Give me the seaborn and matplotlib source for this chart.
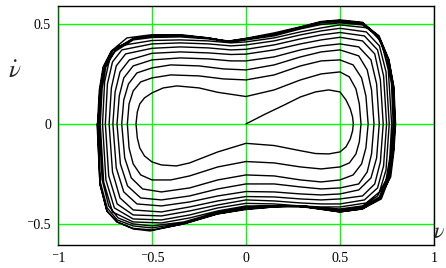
import matplotlib
matplotlib.use("Agg")
import matplotlib.pyplot as plt
import seaborn as sns
import pandas as pd

# phase trajectory nu (displacement) vs nu_dot (velocity)
# one half-turn per line: top passes go left->right, bottom passes right->left
nu = [
    0, 0.1, 0.2, 0.29, 0.37, 0.44, 0.5, 0.532, 0.555, 0.567, 0.571,
    0.567, 0.555, 0.532, 0.5, 0.44, 0.37, 0.29, 0.15, 0, -0.15, -0.3, -0.37, -0.45, -0.5, -0.54, -0.565, -0.578, -0.585,
    -0.578, -0.565, -0.54, -0.5, -0.44, -0.367, -0.25, -0.15, 0, 0.15, 0.29, 0.4, 0.5, 0.55, 0.585, 0.603, 0.612,
    0.603, 0.585, 0.55, 0.5, 0.4, 0.29, 0.15, 0, -0.15, -0.3, -0.4, -0.5, -0.56, -0.6, -0.622, -0.631,
    -0.622, -0.6, -0.56, -0.5, -0.4, -0.25, -0.12, 0, 0.15, 0.29, 0.4, 0.5, 0.57, 0.615, 0.638, 0.65,
    0.638, 0.615, 0.57, 0.5, 0.4, 0.29, 0.15, 0, -0.15, -0.3, -0.45, -0.55, -0.61, -0.645, -0.661,
    -0.65, -0.625, -0.58, -0.5, -0.4, -0.25, -0.12, 0, 0.15, 0.29, 0.4, 0.5, 0.6, 0.645, 0.668, 0.681,
    0.668, 0.645, 0.6, 0.5, 0.4, 0.29, 0.15, 0, -0.15, -0.3, -0.45, -0.56, -0.63, -0.668, -0.686,
    -0.674, -0.65, -0.6, -0.5, -0.35, -0.2, -0.08, 0, 0.15, 0.29, 0.4, 0.5, 0.6, 0.665, 0.695, 0.709,
    0.695, 0.665, 0.6, 0.5, 0.4, 0.29, 0.15, 0, -0.15, -0.3, -0.45, -0.58, -0.65, -0.69, -0.708,
    -0.696, -0.67, -0.62, -0.5, -0.35, -0.2, -0.08, 0, 0.15, 0.29, 0.4, 0.5, 0.62, 0.685, 0.715, 0.73,
    0.715, 0.685, 0.62, 0.5, 0.4, 0.29, 0.15, 0, -0.15, -0.3, -0.45, -0.6, -0.67, -0.71, -0.728,
    -0.716, -0.69, -0.64, -0.5, -0.35, -0.2, -0.08, 0, 0.15, 0.29, 0.4, 0.5, 0.63, 0.7, 0.732, 0.748,
    0.732, 0.7, 0.63, 0.5, 0.4, 0.29, 0.15, 0, -0.15, -0.3, -0.45, -0.6, -0.685, -0.73, -0.748,
    -0.737, -0.71, -0.66, -0.5, -0.35, -0.2, -0.08, 0, 0.15, 0.29, 0.4, 0.5, 0.64, 0.71, 0.745, 0.762,
    0.745, 0.71, 0.64, 0.5, 0.4, 0.29, 0.15, 0, -0.15, -0.3, -0.45, -0.6, -0.7, -0.745, -0.763,
    -0.752, -0.725, -0.675, -0.5, -0.35, -0.2, -0.08, 0, 0.15, 0.29, 0.4, 0.5, 0.65, 0.72, 0.757, 0.775,
    0.765, 0.745, 0.7, 0.62, 0.5, 0.29, 0.15, 0, -0.15, -0.3, -0.45, -0.6, -0.71, -0.757, -0.775,
    -0.765, -0.745, -0.7, -0.6, -0.5, -0.35, -0.2, -0.08, 0, 0.15, 0.29, 0.4, 0.5, 0.62, 0.7, 0.75, 0.774, 0.783,
    0.774, 0.755, 0.71, 0.62, 0.5, 0.3, 0.15, 0, -0.15, -0.33, -0.5, -0.6, -0.68, -0.73, -0.765, -0.782,
    -0.772, -0.752, -0.708, -0.6, -0.5, -0.35, -0.2, -0.08, 0, 0.15, 0.29, 0.4, 0.5, 0.62, 0.705, 0.755, 0.78, 0.789,
    0.779, 0.76, 0.715, 0.62, 0.5, 0.3, 0.15, 0, -0.15, -0.33, -0.5, -0.6, -0.685, -0.738, -0.775, -0.787,
    -0.777, -0.757, -0.713, -0.6, -0.5, -0.35, -0.2, -0.1, 0, 0.15, 0.29, 0.4, 0.5, 0.62, 0.708, 0.76, 0.785, 0.793,
    0.785, 0.765, 0.72, 0.62, 0.5, 0.3, 0.15, 0, -0.15, -0.33, -0.5, -0.6, -0.686, -0.74, -0.777, -0.79,
    -0.78, -0.76, -0.716, -0.633, -0.51, -0.335, -0.2, -0.1, 0, 0.15, 0.287, 0.4, 0.5, 0.62, 0.707, 0.76, 0.787, 0.796,
    0.787, 0.77, 0.707, 0.62, 0.5, 0.266, 0.15, 0, -0.155, -0.335, -0.51, -0.6, -0.686, -0.74, -0.777, -0.792,
]
nu_dot = [
    0, 0.048, 0.093, 0.135, 0.16, 0.17, 0.16, 0.12, 0.075, 0.035, 0,
    -0.035, -0.075, -0.115, -0.14, -0.15, -0.148, -0.134, -0.108, -0.097, -0.14, -0.195, -0.21, -0.205, -0.19, -0.16, -0.12, -0.07, 0,
    0.06, 0.10, 0.13, 0.155, 0.18, 0.19, 0.18, 0.158, 0.137, 0.17, 0.22, 0.25, 0.26, 0.235, 0.175, 0.1, 0,
    -0.09, -0.15, -0.195, -0.215, -0.225, -0.215, -0.195, -0.188, -0.215, -0.26, -0.28, -0.28, -0.255, -0.2, -0.12, 0,
    0.1, 0.165, 0.21, 0.23, 0.245, 0.24, 0.225, 0.22, 0.245, 0.29, 0.315, 0.32, 0.295, 0.23, 0.14, 0,
    -0.12, -0.2, -0.255, -0.28, -0.29, -0.28, -0.26, -0.255, -0.28, -0.32, -0.34, -0.325, -0.27, -0.17, 0,
    0.12, 0.2, 0.255, 0.28, 0.295, 0.29, 0.275, 0.27, 0.295, 0.335, 0.36, 0.37, 0.34, 0.27, 0.17, 0,
    -0.15, -0.24, -0.3, -0.32, -0.325, -0.315, -0.3, -0.3, -0.325, -0.36, -0.38, -0.37, -0.31, -0.2, 0,
    0.14, 0.23, 0.29, 0.32, 0.33, 0.325, 0.315, 0.315, 0.335, 0.37, 0.39, 0.4, 0.385, 0.32, 0.2, 0,
    -0.17, -0.27, -0.33, -0.35, -0.355, -0.35, -0.34, -0.338, -0.36, -0.39, -0.41, -0.4, -0.34, -0.22, 0,
    0.16, 0.26, 0.32, 0.353, 0.36, 0.355, 0.347, 0.349, 0.37, 0.4, 0.42, 0.433, 0.415, 0.35, 0.22, 0,
    -0.19, -0.3, -0.36, -0.375, -0.38, -0.375, -0.365, -0.363, -0.385, -0.415, -0.44, -0.43, -0.37, -0.24, 0,
    0.18, 0.29, 0.35, 0.378, 0.385, 0.38, 0.37, 0.373, 0.395, 0.425, 0.445, 0.457, 0.44, 0.37, 0.24, 0,
    -0.21, -0.32, -0.38, -0.4, -0.4, -0.395, -0.385, -0.38, -0.405, -0.435, -0.46, -0.455, -0.4, -0.26, 0,
    0.2, 0.31, 0.37, 0.4, 0.405, 0.4, 0.39, 0.395, 0.415, 0.445, 0.465, 0.478, 0.46, 0.39, 0.26, 0,
    -0.23, -0.34, -0.395, -0.415, -0.415, -0.41, -0.4, -0.397, -0.42, -0.455, -0.48, -0.475, -0.42, -0.28, 0,
    0.21, 0.325, 0.39, 0.417, 0.42, 0.415, 0.405, 0.41, 0.43, 0.46, 0.48, 0.495, 0.48, 0.41, 0.27, 0,
    -0.17, -0.28, -0.36, -0.41, -0.425, -0.415, -0.41, -0.41, -0.435, -0.47, -0.495, -0.49, -0.44, -0.29, 0,
    0.18, 0.285, 0.36, 0.42, 0.432, 0.435, 0.425, 0.41, 0.42, 0.44, 0.475, 0.497, 0.505, 0.495, 0.44, 0.33, 0.2, 0,
    -0.13, -0.26, -0.365, -0.415, -0.43, -0.41, -0.41, -0.415, -0.44, -0.49, -0.51, -0.5, -0.47, -0.41, -0.28, 0,
    0.17, 0.285, 0.365, 0.425, 0.438, 0.44, 0.428, 0.413, 0.423, 0.445, 0.48, 0.505, 0.512, 0.5, 0.44, 0.325, 0.19, 0,
    -0.13, -0.265, -0.37, -0.42, -0.435, -0.41, -0.412, -0.42, -0.445, -0.495, -0.52, -0.51, -0.48, -0.42, -0.29, 0,
    0.17, 0.285, 0.365, 0.428, 0.442, 0.443, 0.43, 0.413, 0.426, 0.45, 0.483, 0.51, 0.517, 0.505, 0.44, 0.322, 0.186, 0,
    -0.13, -0.265, -0.375, -0.425, -0.44, -0.412, -0.415, -0.425, -0.45, -0.5, -0.53, -0.522, -0.49, -0.435, -0.3, 0,
    0.17, 0.285, 0.365, 0.43, 0.445, 0.445, 0.43, 0.413, 0.428, 0.455, 0.485, 0.512, 0.52, 0.508, 0.435, 0.32, 0.185, 0,
    -0.135, -0.265, -0.375, -0.425, -0.44, -0.41, -0.415, -0.428, -0.45, -0.5, -0.535, -0.525, -0.49, -0.435, -0.3, 0,
]

x_ticks = [-1, -0.5, 0, 0.5, 1]
x_tick_labels = ["\u207b1", "\u207b0.5", "0", "0.5", "1"]
y_ticks = [-0.5, 0, 0.5]
y_tick_labels = ["\u207b0.5", "0", "0.5"]

sns.set_style("white")
plt.rcParams["font.family"] = ["Liberation Serif", "DejaVu Serif"]
plt.rcParams["mathtext.fontset"] = "stix"

fig = plt.figure(figsize=(4.46, 2.68), dpi=100)
ax = fig.add_axes([0.130, 0.086, 0.843, 0.892])

df = pd.DataFrame({"nu": nu, "nu_dot": nu_dot})
sns.lineplot(data=df, x="nu", y="nu_dot", sort=False, estimator=None,
             color="black", lw=1.0, ax=ax, zorder=3)

ax.set_xlim(-1, 1)
ax.set_ylim(-0.605, 0.59)
ax.set_xticks(x_ticks)
ax.set_xticklabels(x_tick_labels)
ax.set_yticks(y_ticks)
ax.set_yticklabels(y_tick_labels)
ax.tick_params(length=0, labelsize=10, pad=5, colors="black")
ax.set_axisbelow(True)
ax.grid(True, color="#00ff00", lw=1)
ax.set_xlabel("")
ax.set_ylabel("")

for side in ["top", "bottom", "right"]:
    ax.spines[side].set_color("black")
    ax.spines[side].set_linewidth(1)
ax.spines["left"].set_color("#006400")
ax.spines["left"].set_linewidth(1)

fig.text(15 / 446, 1 - 72 / 268, r"$\dot{\nu}$", fontsize=18, ha="center", va="center")
fig.text(445 / 446, 1 - 233 / 268, r"$\nu$", fontsize=16, ha="right", va="center")

fig.savefig("out.png", dpi=100)
